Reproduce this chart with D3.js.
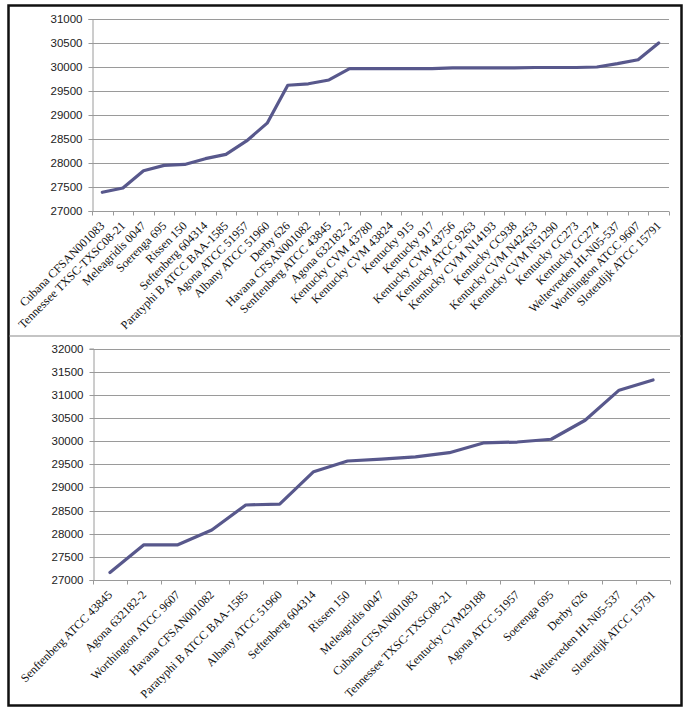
<!DOCTYPE html>
<html>
<head>
<meta charset="utf-8">
<script src="https://cdn.jsdelivr.net/npm/d3@7"></script>
<style>
  html, body { margin: 0; padding: 0; background: #fff; }
  svg { display: block; }
</style>
</head>
<body>
<svg id="chart" width="691" height="715"></svg>
<script>
const topCategories = [
  "Cubana CFSAN001083", "Tennessee TXSC-TXSC08-21", "Meleagridis 0047", "Soerenga 695",
  "Rissen 150", "Seftenberg 604314", "Paratyphi B ATCC BAA-1585", "Agona ATCC 51957",
  "Albany ATCC 51960", "Derby 626", "Havana CFSAN001082", "Senftenberg ATCC 43845",
  "Agona 632182-2", "Kentucky CVM 43780", "Kentucky CVM 43824", "Kentucky 915",
  "Kentucky 917", "Kentucky CVM 43756", "Kentucky ATCC 9263", "Kentucky CVM N14193",
  "Kentucky CC938", "Kentucky CVM N42453", "Kentucky CVM N51290", "Kentucky CC273",
  "Kentucky CC274", "Weltevreden HI-N05-537", "Worthington ATCC 9607", "Sloterdijk ATCC 15791"
];
const topValues = [
  27390, 27480, 27840, 27950, 27970, 28090, 28180, 28460, 28830, 29620,
  29650, 29730, 29965, 29965, 29965, 29965, 29965, 29980, 29980, 29980,
  29980, 29990, 29990, 29990, 30000, 30070, 30150, 30500
];
const topTicks = [27000, 27500, 28000, 28500, 29000, 29500, 30000, 30500, 31000];

const bottomCategories = [
  "Senftenberg ATCC 43845", "Agona 632182-2", "Worthington ATCC 9607", "Havana CFSAN001082",
  "Paratyphi B ATCC BAA-1585", "Albany ATCC 51960", "Seftenberg 604314", "Rissen 150",
  "Meleagridis 0047", "Cubana CFSAN001083", "Tennessee TXSC-TXSC08-21", "Kentucky CVM29188",
  "Agona ATCC 51957", "Soerenga 695", "Derby 626", "Weltevreden HI-N05-537", "Sloterdijk ATCC 15791"
];
const bottomValues = [
  27160, 27760, 27760, 28080, 28620, 28640, 29340, 29570, 29610, 29660,
  29750, 29960, 29980, 30040, 30450, 31100, 31320
];
const bottomTicks = [27000, 27500, 28000, 28500, 29000, 29500, 30000, 30500, 31000, 31500, 32000];

const svg = d3.select("#chart");
const lineColor = "#58588c";
const gridColor = "#9a9a9a";

// outer frame and divider
svg.append("rect")
  .attr("x", 8.5).attr("y", 5.5).attr("width", 673).attr("height", 700)
  .attr("fill", "none").attr("stroke", "#111").attr("stroke-width", 2.5);
svg.append("line")
  .attr("x1", 9).attr("x2", 681).attr("y1", 336).attr("y2", 336)
  .attr("stroke", "#8a8a8a").attr("stroke-width", 1.2);

function drawPanel(cfg) {
  const g = svg.append("g");
  const x = d3.scaleBand().domain(cfg.categories).range([cfg.x0, cfg.x1]).paddingInner(0).paddingOuter(0);
  const y = d3.scaleLinear().domain([cfg.ticks[0], cfg.ticks[cfg.ticks.length - 1]]).range([cfg.y0, cfg.y1]);

  // gridlines
  g.append("g").selectAll("line").data(cfg.ticks.slice(1)).join("line")
    .attr("x1", cfg.x0).attr("x2", cfg.x1)
    .attr("y1", d => Math.round(y(d)) + 0.5).attr("y2", d => Math.round(y(d)) + 0.5)
    .attr("stroke", gridColor).attr("stroke-width", 1);

  // y axis
  const yAxis = d3.axisLeft(y).tickValues(cfg.ticks).tickSize(4).tickPadding(6).tickFormat(d3.format("d"));
  const ya = g.append("g").attr("transform", `translate(${cfg.x0 + 0.5},0)`).call(yAxis);
  ya.select(".domain").attr("stroke", gridColor);
  ya.selectAll(".tick line").attr("stroke", gridColor);
  ya.selectAll(".tick").attr("transform", d => `translate(0,${Math.round(y(d)) + 0.5})`);
  ya.selectAll("text")
    .attr("font-family", "'Liberation Sans', Arial, sans-serif")
    .attr("font-size", "11.5px").attr("fill", "#222");

  // x axis line
  const axisY = Math.round(y(cfg.ticks[0])) + 0.5;
  g.append("line").attr("x1", cfg.x0).attr("x2", cfg.x1).attr("y1", axisY).attr("y2", axisY)
    .attr("stroke", gridColor);
  // boundary tick marks
  const bounds = cfg.categories.map(c => x(c)).concat([cfg.x1]);
  g.append("g").selectAll("line").data(bounds).join("line")
    .attr("x1", d => Math.round(d) + 0.5).attr("x2", d => Math.round(d) + 0.5)
    .attr("y1", axisY).attr("y2", axisY + 4)
    .attr("stroke", gridColor);

  // x labels via axis
  const xAxis = d3.axisBottom(x).tickSize(0).tickPadding(0);
  const xa = g.append("g").attr("transform", `translate(0,${axisY})`).call(xAxis);
  xa.select(".domain").remove();
  xa.selectAll("text")
    .attr("font-family", "'Liberation Serif', 'Times New Roman', serif")
    .attr("font-size", "12px").attr("fill", "#111")
    .attr("text-anchor", "end")
    .attr("dy", "0")
    .attr("y", 0)
    .attr("transform", "translate(3,15) rotate(-45)");

  // line
  const line = d3.line()
    .x((d, i) => x(cfg.categories[i]) + x.bandwidth() / 2)
    .y(d => y(d));
  g.append("path").datum(cfg.values)
    .attr("d", line)
    .attr("fill", "none").attr("stroke", lineColor)
    .attr("stroke-width", 3.2).attr("stroke-linejoin", "round").attr("stroke-linecap", "round");
}

drawPanel({ categories: topCategories, values: topValues, ticks: topTicks,
  x0: 92, x1: 669, y0: 211, y1: 19 });
drawPanel({ categories: bottomCategories, values: bottomValues, ticks: bottomTicks,
  x0: 93, x1: 670, y0: 580, y1: 348.5 });
</script>
</body>
</html>
